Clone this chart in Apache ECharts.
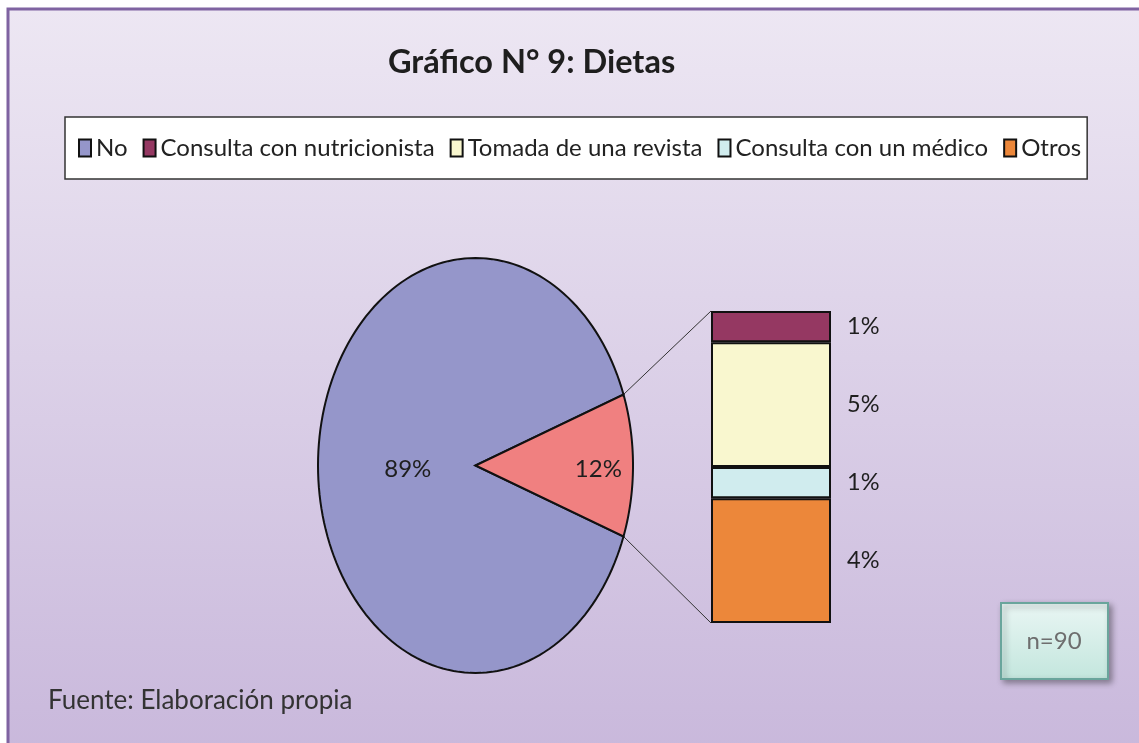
<!DOCTYPE html>
<html>
<head>
<meta charset="utf-8">
<script src="https://cdn.jsdelivr.net/npm/echarts@6/dist/echarts.min.js"></script>
<style>
  html, body { margin: 0; padding: 0; background: #fff; }
  #chart { width: 1139px; height: 743px; }
</style>
</head>
<body>
<div id="chart"></div>
<script>
// datos
var titleText = 'Gráfico N° 9: Dietas';
var sourceText = 'Fuente: Elaboración propia';
var pieNames = ['No', 'Sí'];
var pieCounts = [80, 10];
var pieLabels = ['89%', '12%'];
var barNames = ['Consulta con nutricionista', 'Tomada de una revista', 'Consulta con un médico', 'Otros'];
var barCounts = [1, 4, 1, 4];
var barLabels = ['1%', '5%', '1%', '4%'];
var legendNames = ['No', 'Consulta con nutricionista', 'Tomada de una revista', 'Consulta con un médico', 'Otros'];

var pieColors = ['#9596ca', '#f08080'];
var barColors = ['#953862', '#f9f7cf', '#d0ecee', '#ec873a'];
var labelR = [0.43, 0.78];
var barBox = { left: 711, top: 311, width: 120, height: 312 };
var font = 'Lato';

function sum(a) { var s = 0; for (var i = 0; i < a.length; i++) s += a[i]; return s; }
var total = sum(pieCounts);
var startDeg = pieCounts[pieCounts.length - 1] / total * 180;

function sliceRender(i) {
  return function (params, api) {
    var start = startDeg;
    for (var j = 0; j < i; j++) start += pieCounts[j] / total * 360;
    var end = start + pieCounts[i] / total * 360;
    var pts = [api.coord([0, 0])];
    var steps = 160;
    for (var k = 0; k <= steps; k++) {
      var t = (start + (end - start) * k / steps) * Math.PI / 180;
      pts.push(api.coord([Math.cos(t), Math.sin(t)]));
    }
    var mid = (start + end) / 2 * Math.PI / 180;
    var lp = api.coord([labelR[i] * Math.cos(mid), labelR[i] * Math.sin(mid)]);
    var children = [];
    if (i === pieCounts.length - 1) {
      var a1 = end * Math.PI / 180, a0 = start * Math.PI / 180;
      var p1 = api.coord([Math.cos(a1), Math.sin(a1)]);
      var p0 = api.coord([Math.cos(a0), Math.sin(a0)]);
      children.push({ type: 'line', shape: { x1: p1[0], y1: p1[1], x2: barBox.left, y2: barBox.top },
        style: { stroke: '#333', lineWidth: 1 } });
      children.push({ type: 'line', shape: { x1: p0[0], y1: p0[1], x2: barBox.left, y2: barBox.top + barBox.height },
        style: { stroke: '#333', lineWidth: 1 } });
    }
    children.push({ type: 'polygon', shape: { points: pts },
      style: { fill: pieColors[i], stroke: '#111', lineWidth: 2 } });
    children.push({ type: 'text', x: lp[0], y: lp[1] + 4,
      style: { text: pieLabels[i], font: '24px ' + font, fill: '#1e1e1e',
        align: 'center', verticalAlign: 'middle', textAlign: 'center', textVerticalAlign: 'middle' } });
    return { type: 'group', children: children };
  };
}

var chart = echarts.init(document.getElementById('chart'));

var series = [];
for (var i = 0; i < pieCounts.length; i++) {
  series.push({
    name: pieNames[i],
    type: 'custom',
    xAxisIndex: 0,
    yAxisIndex: 0,
    itemStyle: { color: pieColors[i] },
    renderItem: sliceRender(i),
    data: [[0, 0]],
    z: 2
  });
}
for (var b = 0; b < barCounts.length; b++) {
  series.push({
    name: barNames[b],
    type: 'bar',
    stack: 'otros',
    xAxisIndex: 1,
    yAxisIndex: 1,
    barWidth: '100%',
    data: [barCounts[b]],
    itemStyle: { color: barColors[b], borderColor: '#111', borderWidth: 2 },
    label: {
      show: true,
      position: 'right',
      distance: 16,
      formatter: barLabels[b],
      fontFamily: font,
      fontSize: 23.5,
      color: '#1e1e1e'
    },
    z: 3
  });
}

chart.setOption({
  animation: false,
  title: {
    text: titleText,
    left: 388,
    top: 46,
    padding: 0,
    textStyle: { fontFamily: font, fontSize: 32.5, fontWeight: 'bold', color: '#1e1e1e' }
  },
  legend: {
    data: legendNames,
    left: 65,
    top: 117,
    padding: [19, 6, 19, 13],
    backgroundColor: '#fff',
    borderColor: '#333',
    borderWidth: 1.5,
    icon: 'rect',
    itemWidth: 12,
    itemHeight: 17,
    itemGap: 15,
    selectedMode: false,
    itemStyle: { borderColor: '#111', borderWidth: 2 },
    textStyle: { fontFamily: font, fontSize: 24, color: '#222' }
  },
  grid: [
    { left: 318, top: 258, width: 315, height: 415 },
    { left: barBox.left, top: barBox.top, width: barBox.width, height: barBox.height }
  ],
  xAxis: [
    { type: 'value', gridIndex: 0, min: -1, max: 1, show: false },
    { type: 'category', gridIndex: 1, data: ['otros'], show: false }
  ],
  yAxis: [
    { type: 'value', gridIndex: 0, min: -1, max: 1, show: false },
    { type: 'value', gridIndex: 1, min: 0, max: sum(barCounts), inverse: true, show: false }
  ],
  graphic: [
    {
      type: 'rect', z: -10, silent: true,
      shape: { x: 8, y: 9, width: 1150, height: 760 },
      style: {
        fill: new echarts.graphic.LinearGradient(0, 0, 0, 1, [
          { offset: 0, color: '#ede7f3' },
          { offset: 1, color: '#c8b7db' }
        ]),
        stroke: '#7f63a1', lineWidth: 3
      }
    },
    {
      type: 'rect', z: 5,
      shape: { x: 1001, y: 603, width: 107, height: 76 },
      style: {
        fill: new echarts.graphic.LinearGradient(0, 0, 0, 1, [
          { offset: 0, color: '#eaf6f4' },
          { offset: 1, color: '#c3e6dd' }
        ]),
        stroke: '#6aa59c', lineWidth: 2,
        shadowBlur: 6, shadowOffsetX: 3, shadowOffsetY: 3, shadowColor: 'rgba(0,0,0,0.35)'
      }
    },
    {
      type: 'text', z: 6, x: 1054, y: 641,
      style: { text: 'n=' + total, font: '24px ' + font, fill: '#6e6e6e',
        align: 'center', verticalAlign: 'middle', textAlign: 'center', textVerticalAlign: 'middle' }
    },
    {
      type: 'text', z: 6, x: 48, y: 701,
      style: { text: sourceText, font: '26px ' + font, fill: '#333',
        align: 'left', verticalAlign: 'middle', textAlign: 'left', textVerticalAlign: 'middle' }
    }
  ],
  series: series
});
</script>
</body>
</html>
